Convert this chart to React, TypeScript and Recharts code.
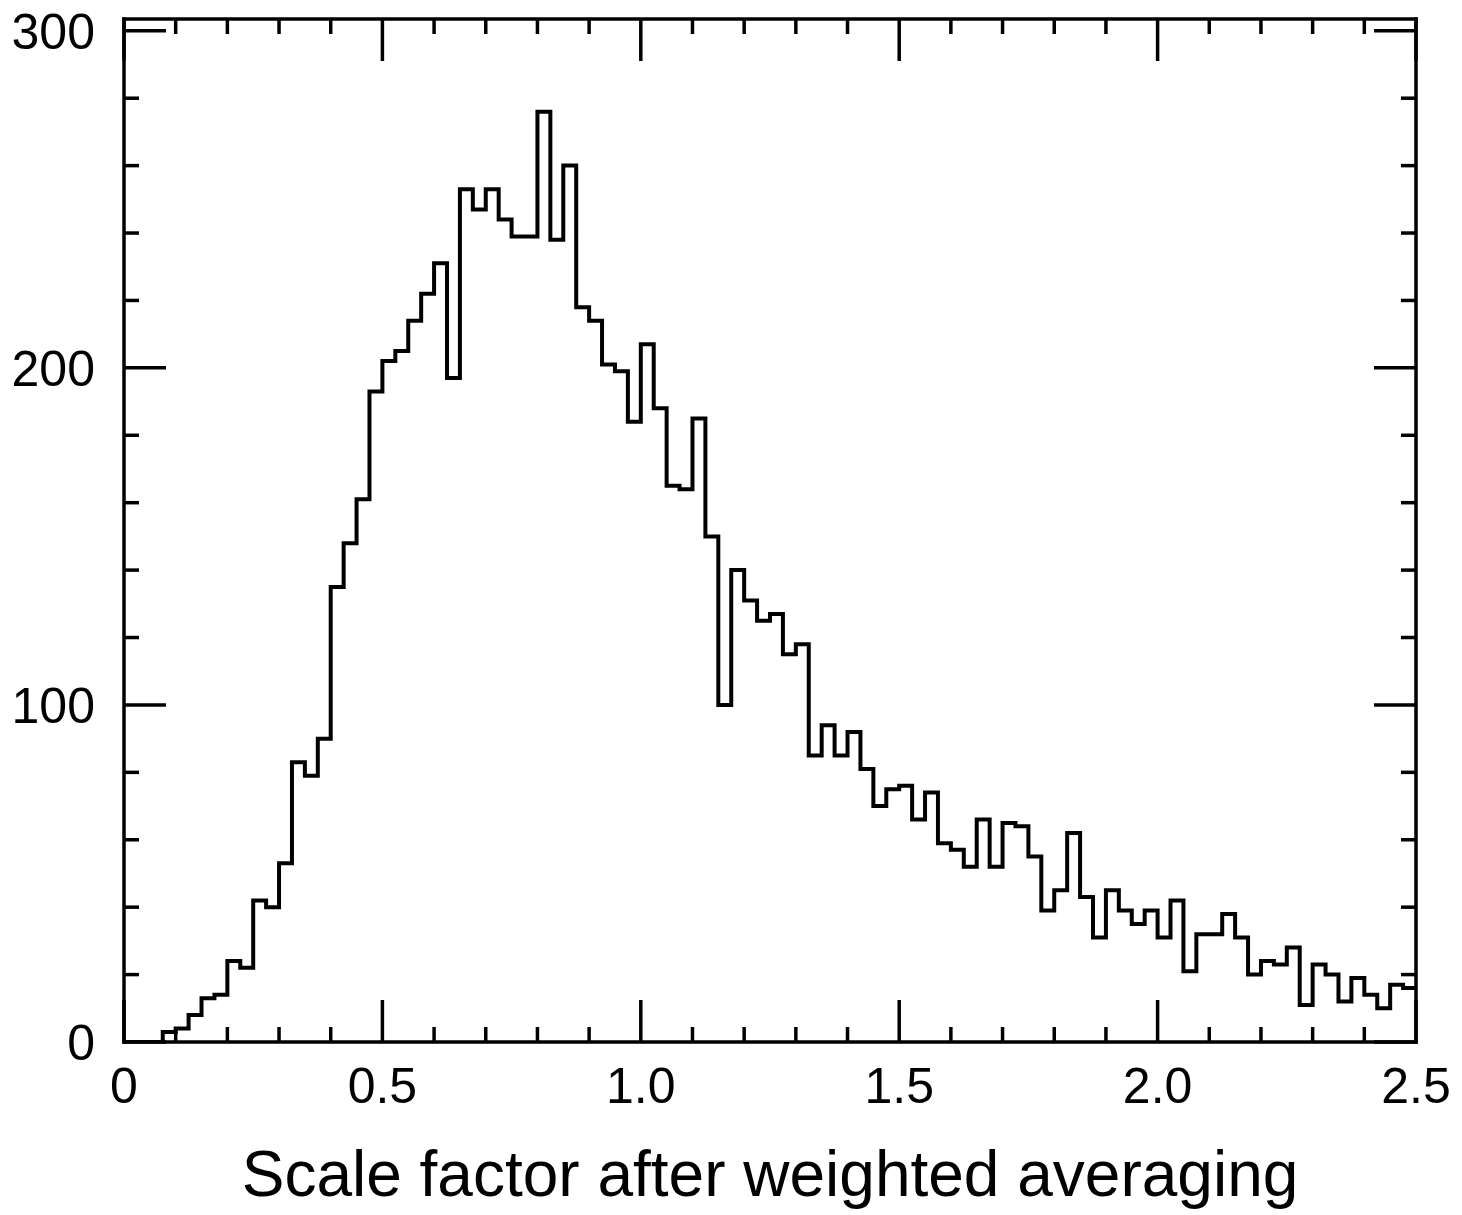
import { LineChart, Line, XAxis, YAxis } from "recharts";

const BIN_WIDTH = 0.025;

// counts per 0.025-wide bin, starting at 0
const counts = [
  0, 0, 0, 3, 4, 8, 13, 14, 24, 22,
  42, 40, 53, 83, 79, 90, 135, 148, 161, 193,
  202, 205, 214, 222, 231, 197, 253, 247, 253, 244,
  239, 239, 276, 238, 260, 218, 214, 201, 199, 184,
  207, 188, 165, 164, 185, 150, 100, 140, 131, 125,
  127, 115, 118, 85, 94, 85, 92, 81, 70, 75,
  76, 66, 74, 59, 57, 52, 66, 52, 65, 64,
  55, 39, 45, 62, 43, 31, 45, 39, 35, 39,
  31, 42, 21, 32, 32, 38, 31, 20, 24, 23,
  28, 11, 23, 20, 12, 19, 14, 10, 17, 16,
];

const xTicks = [
  0, 0.1, 0.2, 0.3, 0.4, 0.5, 0.6, 0.7, 0.8, 0.9,
  1.0, 1.1, 1.2, 1.3, 1.4, 1.5, 1.6, 1.7, 1.8, 1.9,
  2.0, 2.1, 2.2, 2.3, 2.4, 2.5,
];
const xMajor = [0, 0.5, 1.0, 1.5, 2.0, 2.5];
const yTicks = [0, 20, 40, 60, 80, 100, 120, 140, 160, 180, 200, 220, 240, 260, 280, 300];
const yMajor = [0, 100, 200, 300];

const TITLE = "Scale factor after weighted averaging";

const FONT = "'Liberation Sans', Arial, Helvetica, sans-serif";
const MAJOR_LEN = 42;
const MINOR_LEN = 15;
const W = 3.5;
const TICK_FS = 50;

// step outline: one point per bin start, plus the right edge
const data = [
  ...counts.map((c, i) => ({ x: +(i * BIN_WIDTH).toFixed(3), count: c })),
  { x: 2.5, count: counts[counts.length - 1] },
];

const near = (list: number[], v: number) => list.some((m) => Math.abs(m - v) < 1e-6);
const fmtX = (v: number) => (v === 0 ? "0" : v.toFixed(1));

function BottomTick({ x, y, payload }: any) {
  const major = near(xMajor, payload.value);
  return (
    <g>
      <line x1={x} y1={y} x2={x} y2={y - (major ? MAJOR_LEN : MINOR_LEN)} stroke="#000" strokeWidth={W} />
      {major && (
        <text x={x} y={y + 61} textAnchor="middle" fontSize={TICK_FS} fontFamily={FONT} fill="#000">
          {fmtX(payload.value)}
        </text>
      )}
    </g>
  );
}

function TopTick({ x, y, payload }: any) {
  const major = near(xMajor, payload.value);
  return <line x1={x} y1={y} x2={x} y2={y + (major ? MAJOR_LEN : MINOR_LEN)} stroke="#000" strokeWidth={W} />;
}

function LeftTick({ x, y, payload }: any) {
  const major = near(yMajor, payload.value);
  return (
    <g>
      <line x1={x} y1={y} x2={x + (major ? MAJOR_LEN : MINOR_LEN)} y2={y} stroke="#000" strokeWidth={W} />
      {major && (
        <text x={x - 29} y={y + 18} textAnchor="end" fontSize={TICK_FS} fontFamily={FONT} fill="#000">
          {payload.value}
        </text>
      )}
    </g>
  );
}

function RightTick({ x, y, payload }: any) {
  const major = near(yMajor, payload.value);
  return <line x1={x} y1={y} x2={x - (major ? MAJOR_LEN : MINOR_LEN)} y2={y} stroke="#000" strokeWidth={W} />;
}

const axisLine = { stroke: "#000", strokeWidth: W, strokeLinecap: "square" as const };

export default function App() {
  return (
    <div style={{ position: "absolute", left: 0, top: 0, background: "#fff" }}>
      <LineChart
        width={1462}
        height={1215}
        data={data}
        margin={{ top: 18, right: 45, bottom: 3, left: 14 }}
      >
        <XAxis
          xAxisId="bottom"
          dataKey="x"
          type="number"
          domain={[0, 2.5]}
          allowDataOverflow
          ticks={xTicks}
          interval={0}
          height={170}
          tickSize={0}
          tickMargin={0}
          tickLine={false}
          axisLine={axisLine}
          tick={BottomTick}
          label={{
            value: TITLE,
            position: "insideBottom",
            offset: 16,
            fontSize: 64,
            fontFamily: FONT,
            fill: "#000",
          }}
        />
        <XAxis
          xAxisId="top"
          orientation="top"
          dataKey="x"
          type="number"
          domain={[0, 2.5]}
          allowDataOverflow
          ticks={xTicks}
          interval={0}
          height={1}
          tickSize={0}
          tickMargin={0}
          tickLine={false}
          axisLine={axisLine}
          tick={TopTick}
        />
        <YAxis
          yAxisId="left"
          type="number"
          domain={[0, 303.5]}
          allowDataOverflow
          ticks={yTicks}
          interval={0}
          width={110}
          tickSize={0}
          tickMargin={0}
          tickLine={false}
          axisLine={axisLine}
          tick={LeftTick}
        />
        <YAxis
          yAxisId="right"
          orientation="right"
          type="number"
          domain={[0, 303.5]}
          allowDataOverflow
          ticks={yTicks}
          interval={0}
          width={1}
          tickSize={0}
          tickMargin={0}
          tickLine={false}
          axisLine={axisLine}
          tick={RightTick}
        />
        <Line
          xAxisId="bottom"
          yAxisId="left"
          type="stepAfter"
          dataKey="count"
          stroke="#000"
          strokeWidth={4}
          dot={false}
          activeDot={false}
          isAnimationActive={false}
        />
      </LineChart>
    </div>
  );
}
